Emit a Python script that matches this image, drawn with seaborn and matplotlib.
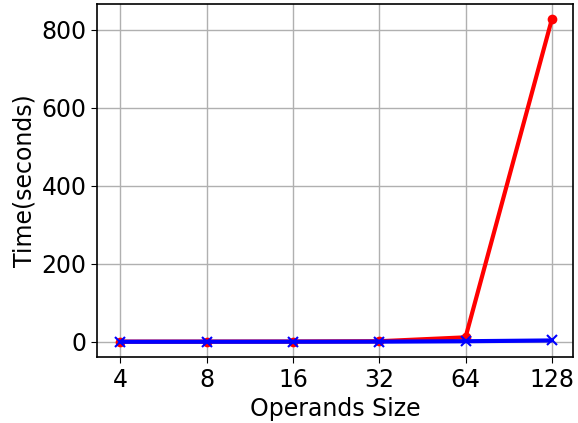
import matplotlib
matplotlib.use("Agg")
import matplotlib.pyplot as plt
import seaborn as sns
import pandas as pd

operand_sizes = [4, 8, 16, 32, 64, 128]
time_red = [0.5, 0.6, 0.8, 1.5, 11.5, 826]
time_blue = [0.1, 0.2, 0.3, 0.5, 1.5, 3.5]

sns.set_style("whitegrid", {"axes.edgecolor": "black", "grid.color": "#b0b0b0",
                            "text.color": "black", "axes.labelcolor": "black",
                            "xtick.color": "black", "ytick.color": "black"})
plt.rcParams["font.family"] = ["DejaVu Sans"]

df = pd.DataFrame({
    "pos": list(range(len(operand_sizes))) * 2,
    "time": time_red + time_blue,
    "series": ["red"] * len(time_red) + ["blue"] * len(time_blue),
})

fig, ax = plt.subplots(figsize=(5.78, 4.23), dpi=100)
sns.lineplot(data=df[df.series == "red"], x="pos", y="time", color="red",
             marker="o", markersize=7, linewidth=3, markeredgewidth=0, ax=ax)
sns.lineplot(data=df[df.series == "blue"], x="pos", y="time", color="blue",
             marker="x", markersize=7, linewidth=3, markeredgewidth=1.5,
             markeredgecolor="blue", ax=ax)

ax.set_xticks(range(len(operand_sizes)))
ax.set_xticklabels([str(s) for s in operand_sizes])
ax.set_yticks([0, 200, 400, 600, 800])
ax.set_ylim(-40, 865)
ax.set_xlim(-0.27, 5.25)
ax.set_xlabel("Operands Size", fontsize=17)
ax.set_ylabel("Time(seconds)", fontsize=17)
ax.tick_params(axis="both", labelsize=17, length=4, color="black", labelcolor="black",
               direction="out")
ax.tick_params(bottom=True, left=True)
for sp in ax.spines.values():
    sp.set_linewidth(1.2)
ax.grid(True, color="#b0b0b0", linewidth=1)
ax.set_axisbelow(True)

fig.subplots_adjust(left=0.168, right=0.992, top=0.99, bottom=0.155)
fig.savefig("out.png", dpi=100)
